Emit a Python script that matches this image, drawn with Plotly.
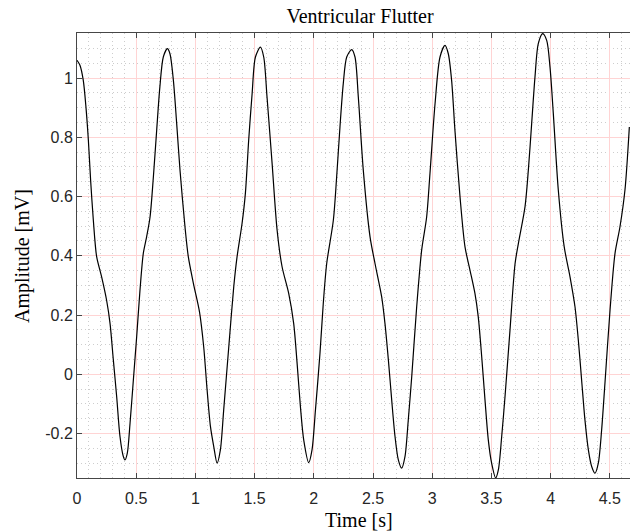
import plotly.graph_objects as go

# ---- data ----
time_s = [
    0.000, 0.025, 0.053, 0.076, 0.096, 0.115, 0.138, 0.166, 0.208, 0.250,
    0.279, 0.307, 0.335, 0.363, 0.391, 0.405, 0.425, 0.448, 0.476, 0.504,
    0.532, 0.560, 0.588, 0.617, 0.645, 0.673, 0.700, 0.729, 0.763, 0.785,
    0.814, 0.842, 0.870, 0.912, 0.940, 0.983, 1.035, 1.070, 1.099, 1.127,
    1.155, 1.183, 1.211, 1.239, 1.282, 1.324, 1.352, 1.394, 1.422, 1.450,
    1.479, 1.507, 1.549, 1.577, 1.605, 1.648, 1.690, 1.732, 1.788, 1.830,
    1.859, 1.887, 1.915, 1.957, 1.985, 2.014, 2.052, 2.080, 2.109, 2.165,
    2.193, 2.221, 2.249, 2.278, 2.320, 2.348, 2.376, 2.418, 2.475, 2.517,
    2.573, 2.601, 2.630, 2.658, 2.686, 2.714, 2.742, 2.770, 2.798, 2.827,
    2.869, 2.911, 2.953, 2.981, 3.024, 3.066, 3.108, 3.136, 3.164, 3.192,
    3.235, 3.277, 3.319, 3.361, 3.389, 3.418, 3.446, 3.474, 3.502, 3.536,
    3.559, 3.587, 3.615, 3.657, 3.700, 3.728, 3.784, 3.812, 3.840, 3.868,
    3.896, 3.933, 3.967, 3.995, 4.023, 4.065, 4.115, 4.164, 4.206, 4.234,
    4.262, 4.290, 4.319, 4.347, 4.375, 4.403, 4.431, 4.459, 4.502, 4.544,
    4.586, 4.628, 4.665,
]
amplitude_mv = [
    1.060, 1.043, 0.992, 0.900, 0.790, 0.655, 0.520, 0.397, 0.329, 0.250,
    0.172, 0.048, -0.075, -0.210, -0.277, -0.289, -0.266, -0.165, -0.019, 0.127,
    0.284, 0.408, 0.464, 0.531, 0.666, 0.824, 0.970, 1.071, 1.099, 1.082,
    0.992, 0.846, 0.689, 0.498, 0.397, 0.307, 0.210, 0.093, -0.053, -0.176,
    -0.244, -0.300, -0.255, -0.120, 0.093, 0.296, 0.397, 0.509, 0.610, 0.790,
    0.947, 1.071, 1.104, 1.071, 0.936, 0.711, 0.487, 0.363, 0.273, 0.172,
    0.037, -0.109, -0.222, -0.298, -0.255, -0.120, 0.070, 0.239, 0.374, 0.520,
    0.666, 0.835, 0.981, 1.071, 1.096, 1.071, 0.936, 0.689, 0.464, 0.374,
    0.262, 0.172, 0.048, -0.087, -0.210, -0.289, -0.317, -0.278, -0.154, -0.008,
    0.228, 0.419, 0.531, 0.677, 0.913, 1.071, 1.110, 1.082, 0.992, 0.824,
    0.599, 0.430, 0.352, 0.273, 0.194, 0.060, -0.087, -0.222, -0.300, -0.350,
    -0.322, -0.210, -0.075, 0.149, 0.374, 0.442, 0.566, 0.689, 0.846, 1.003,
    1.116, 1.150, 1.127, 1.037, 0.880, 0.622, 0.430, 0.329, 0.228, 0.116,
    -0.019, -0.154, -0.255, -0.311, -0.334, -0.300, -0.188, -0.030, 0.217, 0.408,
    0.498, 0.622, 0.835,
]

x_tick_values = [0, 0.5, 1, 1.5, 2, 2.5, 3, 3.5, 4, 4.5]
x_tick_labels = ["0", "0.5", "1", "1.5", "2", "2.5", "3", "3.5", "4", "4.5"]
y_tick_values = [-0.2, 0, 0.2, 0.4, 0.6, 0.8, 1.0]
y_tick_labels = ["-0.2", "0", "0.2", "0.4", "0.6", "0.8", "1"]

title_text = "Ventricular Flutter"
x_label = "Time [s]"
y_label = "Amplitude [mV]"

# ---- figure ----
W, H = 630, 532
ML, MR, MT, MB = 77, 0, 33, 54
plot_w = W - ML - MR
plot_h = H - MT - MB
px_per_s = 118.4
x_max = plot_w / px_per_s

axis_col = "rgb(70,70,70)"
tick_font = dict(family="Liberation Sans, Arial, sans-serif", size=16, color="rgb(38,38,38)")
serif = "Liberation Serif, Times New Roman, serif"
major_grid = "rgb(255,212,212)"
minor_grid = "rgb(205,205,205)"

fig = go.Figure()
fig.add_trace(go.Scatter(
    x=time_s, y=amplitude_mv, mode="lines",
    line=dict(color="black", width=1.2, shape="spline", smoothing=0.8),
    showlegend=False, hoverinfo="skip",
))

fig.update_layout(
    width=W, height=H,
    margin=dict(l=ML, r=MR, t=MT, b=MB, pad=0),
    paper_bgcolor="white", plot_bgcolor="white",
    title=dict(text=title_text, font=dict(family=serif, size=20, color="black"),
               xref="container", x=360 / W, xanchor="center",
               yref="container", y=1 - 16 / H, yanchor="middle"),
    annotations=[
        dict(text=x_label, xref="paper", yref="paper",
             x=(359 - ML) / plot_w, y=-(520 - (MT + plot_h)) / plot_h,
             xanchor="center", yanchor="middle", showarrow=False,
             font=dict(family=serif, size=20, color="black")),
        dict(text=y_label, xref="paper", yref="paper", textangle=-90,
             x=(23 - ML) / plot_w, y=(MT + plot_h - 256) / plot_h,
             xanchor="center", yanchor="middle", showarrow=False,
             font=dict(family=serif, size=20, color="black")),
    ],
)

fig.update_xaxes(
    range=[0, x_max], tickmode="array", tickvals=x_tick_values, ticktext=x_tick_labels,
    showline=True, linecolor=axis_col, linewidth=1, mirror="ticks",
    ticks="inside", ticklen=5, tickcolor=axis_col, tickwidth=1,
    tickfont=tick_font, zeroline=False, ticklabelstandoff=6,
    showgrid=True, gridcolor=major_grid, gridwidth=1,
    minor=dict(tick0=0, dtick=0.1, showgrid=True, gridcolor=minor_grid,
               griddash="1px,3px", gridwidth=1, ticks=""),
)
fig.update_yaxes(
    range=[-0.35, 1.152], tickmode="array", tickvals=y_tick_values, ticktext=y_tick_labels,
    showline=True, linecolor=axis_col, linewidth=1, mirror=False,
    ticks="inside", ticklen=5, tickcolor=axis_col, tickwidth=1,
    tickfont=tick_font, zeroline=False,
    showgrid=True, gridcolor=major_grid, gridwidth=1,
    minor=dict(tick0=0, dtick=0.05, showgrid=True, gridcolor=minor_grid,
               griddash="1px,3px", gridwidth=1, ticks=""),
)

fig.write_html("out.html", config={"displayModeBar": False},
               post_script="document.body.style.margin='0';")
